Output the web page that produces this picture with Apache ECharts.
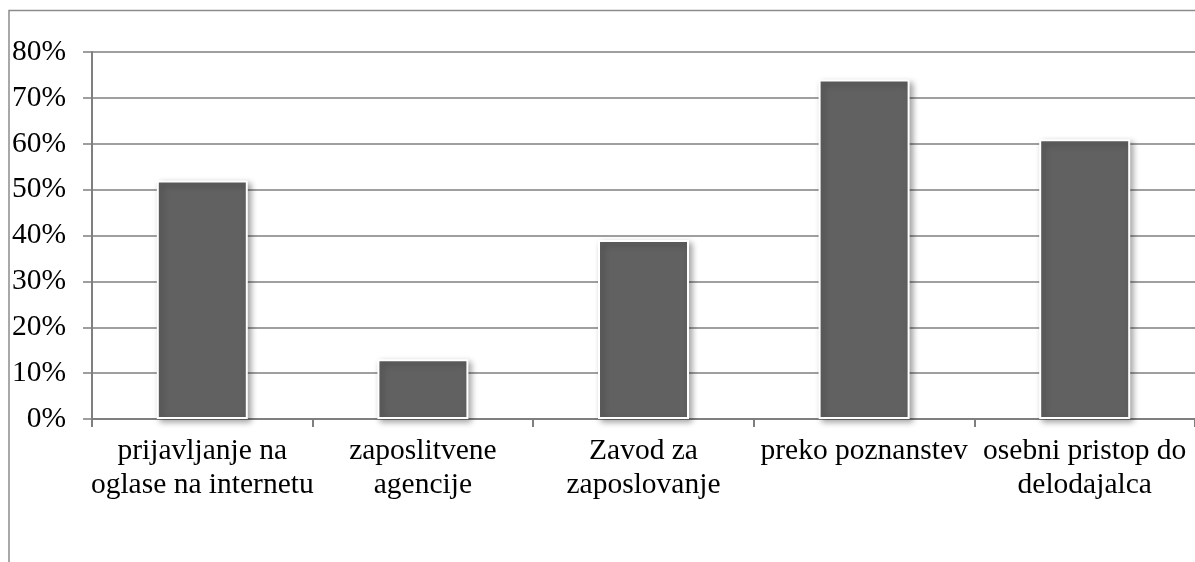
<!DOCTYPE html>
<html>
<head>
<meta charset="utf-8">
<script src="https://cdn.jsdelivr.net/npm/echarts@6/dist/echarts.min.js"></script>
<style>
  html, body { margin: 0; padding: 0; background: #fff; }
  #chart { width: 1195px; height: 562px; }
</style>
</head>
<body>
<div id="chart"></div>
<script>
// kategorije in deleži (v %)
var categories = [
  "prijavljanje na\noglase na internetu",
  "zaposlitvene\nagencije",
  "Zavod za\nzaposlovanje",
  "preko poznanstev",
  "osebni pristop do\ndelodajalca"
];
var values = [52, 13, 39, 74, 61];
var yTicks = [0, 10, 20, 30, 40, 50, 60, 70, 80];

var myChart = echarts.init(document.getElementById("chart"));
var font = "'Liberation Serif', 'Times New Roman', serif";

var option = {
  backgroundColor: "#fff",
  animation: false,
  graphic: [
    {
      // okvir grafa
      type: "rect",
      shape: { x: 9, y: 10.5, width: 1300, height: 700 },
      style: { fill: "none", stroke: "#8c8c8c", lineWidth: 1.5 },
      z: 0
    }
  ],
  grid: {
    left: 92,
    top: 52,
    width: 1112,
    height: 367
  },
  xAxis: {
    type: "category",
    data: categories,
    axisLine: { lineStyle: { color: "#7f7f7f", width: 2 } },
    axisTick: { show: true, length: 8, lineStyle: { color: "#7f7f7f", width: 2 } },
    axisLabel: {
      interval: 0,
      margin: 15,
      color: "#000",
      fontFamily: font,
      fontSize: 29.5,
      lineHeight: 34
    }
  },
  yAxis: {
    type: "value",
    min: yTicks[0],
    max: yTicks[yTicks.length - 1],
    interval: 10,
    axisLine: { show: true, lineStyle: { color: "#7f7f7f", width: 2 } },
    axisTick: { show: true, length: 9, lineStyle: { color: "#7f7f7f", width: 1.5 } },
    splitLine: { show: true, lineStyle: { color: "#7f7f7f", width: 1.5 } },
    axisLabel: {
      margin: 26,
      color: "#000",
      fontFamily: font,
      fontSize: 29.5,
      formatter: function (v) { return v + "%"; }
    }
  },
  series: [
    {
      type: "bar",
      data: values,
      barWidth: 91,
      itemStyle: {
        color: "#616161",
        borderColor: "#fff",
        borderWidth: 2,
        shadowColor: "rgba(0,0,0,0.35)",
        shadowBlur: 6,
        shadowOffsetX: 3,
        shadowOffsetY: 3
      }
    }
  ]
};

myChart.setOption(option);
</script>
</body>
</html>
